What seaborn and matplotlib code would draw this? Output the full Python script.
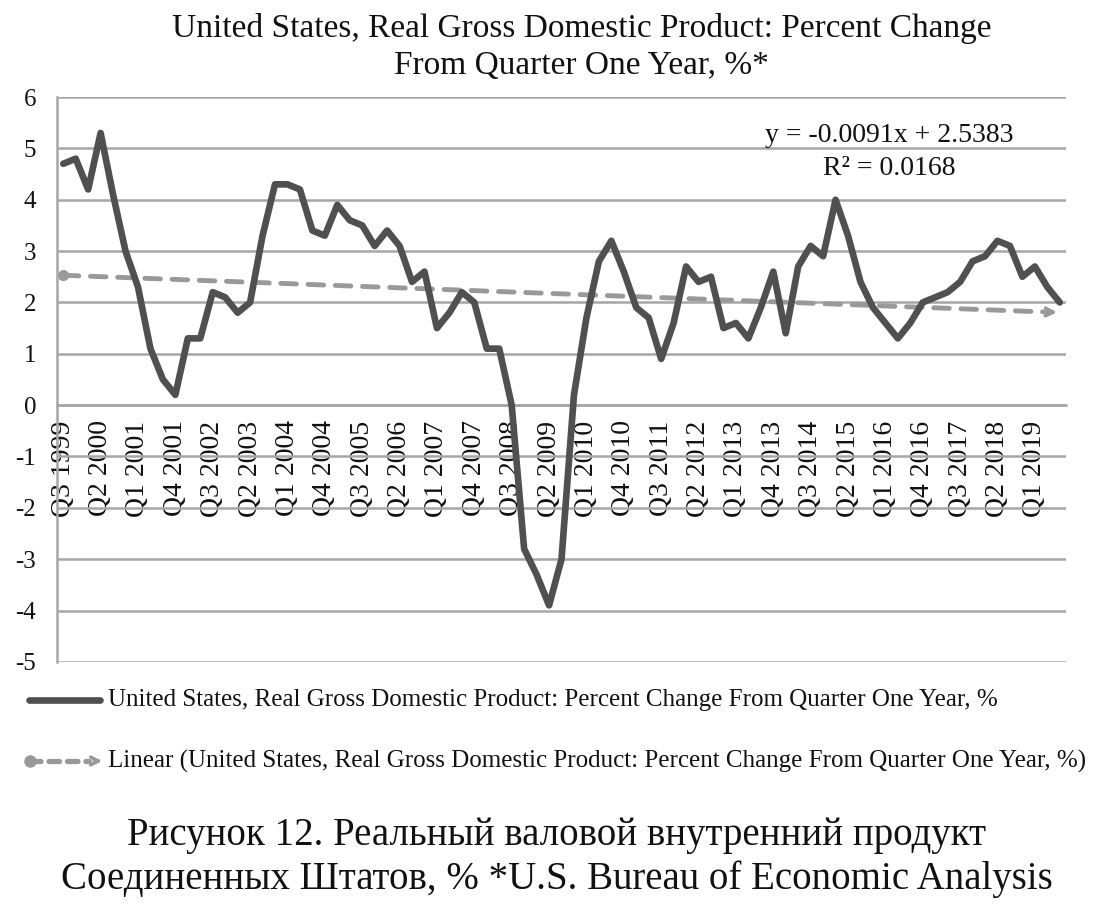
import numpy as np
import pandas as pd
import matplotlib
matplotlib.use("Agg")
import matplotlib.pyplot as plt
from matplotlib.lines import Line2D
import seaborn as sns

# quarters Q3 1999 .. Q3 2019
quarters = []
for yr in range(1999, 2020):
    for q in range(1, 5):
        if (yr == 1999 and q < 3) or (yr == 2019 and q > 3):
            continue
        quarters.append('Q' + str(q) + ' ' + str(yr))

gdp_change = [4.7, 4.8, 4.2, 5.3, 4.1, 3.0, 2.3, 1.1, 0.5, 0.2,
              1.3, 1.3, 2.2, 2.1, 1.8, 2.0, 3.3, 4.3, 4.3, 4.2,
              3.4, 3.3, 3.9, 3.6, 3.5, 3.1, 3.4, 3.1, 2.4, 2.6,
              1.5, 1.8, 2.2, 2.0, 1.1, 1.1, 0.0, -2.8, -3.3, -3.9,
              -3.0, 0.2, 1.7, 2.8, 3.2, 2.6, 1.9, 1.7, 0.9, 1.6,
              2.7, 2.4, 2.5, 1.5, 1.6, 1.3, 1.9, 2.6, 1.4, 2.7,
              3.1, 2.9, 4.0, 3.3, 2.4, 1.9, 1.6, 1.3, 1.6, 2.0,
              2.1, 2.2, 2.4, 2.8, 2.9, 3.2, 3.1, 2.5, 2.7, 2.3, 2.0]

series_name = 'United States, Real Gross Domestic Product: Percent Change From Quarter One Year, %'
title = 'United States, Real Gross Domestic Product: Percent Change\nFrom Quarter One Year, %*'
caption = 'Рисунок 12. Реальный валовой внутренний продукт\nСоединенных Штатов, % *U.S. Bureau of Economic Analysis'
equation = 'y = -0.0091x + 2.5383\nR² = 0.0168'

df = pd.DataFrame({'idx': np.arange(len(quarters)), 'quarter': quarters, 'value': gdp_change})

sns.set_style("white")
plt.rcParams['font.family'] = ['Liberation Serif', 'DejaVu Serif']
plt.rcParams['axes.unicode_minus'] = False

line_col = '#505050'
trend_col = '#999999'
grid_col = '#a6a6a6'
text_col = '#111111'

fig = plt.figure(figsize=(11.18, 9.18), dpi=100)
ax = fig.add_axes([0.051, 0.279, 0.9025, 0.6153])

sns.lineplot(data=df, x='idx', y='value', ax=ax, color=line_col, linewidth=4.8,
             solid_joinstyle='round', zorder=3)

# linear trend (Excel numbers x from 1)
coef = np.polyfit(df['idx'] + 1, df['value'], 1)
trend = np.polyval(coef, df['idx'] + 1)
ax.plot(df['idx'][:-1], trend[:-1], color=trend_col, linewidth=3.5, dashes=(3.2, 2.4),
        dash_capstyle='round', zorder=2)
ax.plot(df['idx'].iloc[0], trend[0], 'o', color=trend_col, markersize=7, zorder=2)
ax.annotate('', xy=(df['idx'].iloc[-1], trend[-1]), xytext=(df['idx'].iloc[-2], trend[-2]),
            arrowprops=dict(arrowstyle='->', color=trend_col, lw=2.5, mutation_scale=14))

ax.set_xlim(-0.5, len(quarters) - 0.5)
ax.set_ylim(-5, 6)
ax.set_yticks(range(-5, 7))
ax.yaxis.grid(True, color=grid_col, linewidth=1.8)
ax.set_axisbelow(True)
for s in ['top', 'right']:
    ax.spines[s].set_visible(False)
ax.spines['left'].set_color(grid_col)
ax.spines['left'].set_linewidth(1.8)
ax.spines['bottom'].set_position(('data', 0))
ax.spines['bottom'].set_color(grid_col)
ax.spines['bottom'].set_linewidth(1.8)

ax.set_xticks(df['idx'][::3])
ax.set_xticklabels(df['quarter'][::3], rotation=90, fontsize=20, color=text_col)
ax.set_xticks(np.arange(len(quarters) + 1) - 0.5, minor=True)
ax.tick_params(axis='x', which='major', length=0, pad=11)
ax.tick_params(axis='x', which='minor', length=7, width=1.8, color=grid_col, direction='out')
ax.tick_params(axis='y', length=7, width=1.8, color=grid_col, labelsize=18, pad=8, labelcolor=text_col)
ax.set_xlabel('')
ax.set_ylabel('')

ax.text(66.3, 4.93, equation, fontsize=20, ha='center', va='center', linespacing=1.45, color=text_col)

fig.text(0.52, 0.949, title, fontsize=24, ha='center', va='center', linespacing=1.3, color=text_col)

# legend below the plot
y1, y2 = 0.2375, 0.171
fig.add_artist(Line2D([0.026, 0.089], [y1, y1], color=line_col, linewidth=4.8, solid_capstyle='round'))
fig.text(0.0966, y1, series_name, fontsize=18, va='center', color=text_col)
fig.add_artist(Line2D([0.027, 0.08], [y2, y2], color=trend_col, linewidth=3.8,
                      dashes=(2.0, 1.5), dash_capstyle='round'))
fig.add_artist(Line2D([0.027], [y2], marker='o', color=trend_col, markersize=8))
ax.annotate('', xy=(0.094, y2), xytext=(0.082, y2), xycoords='figure fraction',
            arrowprops=dict(arrowstyle='->', color=trend_col, lw=2.5, mutation_scale=14))
fig.text(0.0966, y2, 'Linear (' + series_name + ')', fontsize=18, va='center', color=text_col)

fig.text(0.498, 0.066, caption, fontsize=28, ha='center', va='center', linespacing=1.2, color=text_col)

fig.savefig('out.png', dpi=100)
